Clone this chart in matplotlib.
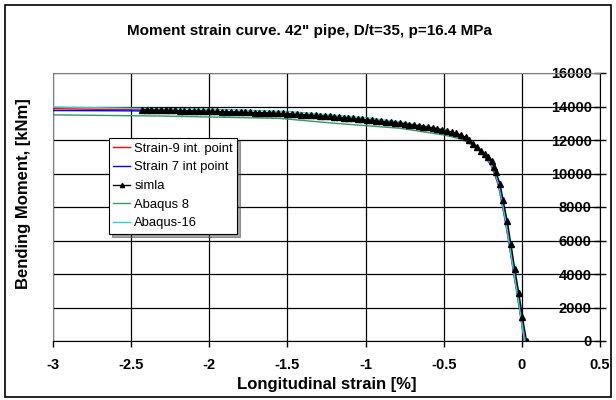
import matplotlib
matplotlib.use('Agg')
import matplotlib.pyplot as plt
from matplotlib.patches import Rectangle

plt.rcParams['font.family'] = ['Liberation Sans', 'DejaVu Sans']

# simla results (triangle markers)
simla_x = [-2.43, -2.40, -2.37, -2.34, -2.31, -2.28, -2.25, -2.22, -2.19, -2.16,
           -2.13, -2.10, -2.07, -2.04, -2.01, -1.98, -1.95, -1.92, -1.89, -1.86,
           -1.83, -1.80, -1.77, -1.74, -1.71, -1.68, -1.65, -1.62, -1.59, -1.56,
           -1.53, -1.50, -1.47, -1.44, -1.41, -1.38, -1.35, -1.32, -1.29, -1.26,
           -1.23, -1.20, -1.17, -1.14, -1.11, -1.08, -1.05, -1.02, -0.99, -0.96,
           -0.93, -0.90, -0.87, -0.84, -0.81, -0.78, -0.75, -0.72, -0.69, -0.66,
           -0.63, -0.60, -0.57, -0.54, -0.51, -0.48, -0.45, -0.42, -0.39, -0.36,
           -0.335, -0.31, -0.285, -0.26, -0.235, -0.215, -0.194, -0.178, -0.166,
           -0.14, -0.12, -0.094, -0.07, -0.045, -0.019, 0.004, 0.03]
simla_m = [13800, 13795, 13790, 13785, 13780, 13775, 13770, 13765, 13760, 13755,
           13750, 13745, 13735, 13730, 13720, 13715, 13705, 13700, 13690, 13680,
           13675, 13665, 13655, 13650, 13640, 13630, 13625, 13615, 13605, 13600,
           13585, 13570, 13555, 13540, 13520, 13505, 13490, 13470, 13450, 13430,
           13410, 13380, 13360, 13335, 13310, 13285, 13260, 13235, 13210, 13180,
           13150, 13120, 13090, 13060, 13030, 13000, 12960, 12920, 12880, 12840,
           12800, 12760, 12710, 12660, 12610, 12550, 12480, 12400, 12300, 12160,
           12000, 11780, 11580, 11360, 11160, 11000, 10720, 10400, 10060,
           9400, 8420, 7180, 5790, 4280, 2840, 1410, 0]

# Strain-9 int. point
s9_x = [-3.0, -2.7, -2.4, -2.0, -1.5, -1.0, -0.78, -0.6, -0.5, -0.4, -0.35, -0.3,
        -0.25, -0.2, -0.17, -0.145, -0.125, -0.1, -0.077, -0.053, -0.027, -0.004, 0.02]
s9_m = [13870, 13830, 13790, 13710, 13560, 13200, 12980, 12740, 12580, 12260, 12050, 11650,
        11200, 10650, 10050, 9350, 8400, 7150, 5750, 4250, 2800, 1400, 0]

# Strain 7 int point
s7_x = [-3.0, -2.5, -2.0, -1.5, -1.0, -0.78, -0.5, -0.4, -0.35, -0.3, -0.25, -0.2,
        -0.175, -0.15, -0.13, -0.105, -0.08, -0.055, -0.03, -0.007, 0.015]
s7_m = [13760, 13740, 13680, 13530, 13170, 12960, 12560, 12250, 12040, 11620, 11150, 10550,
        10000, 9300, 8350, 7100, 5700, 4200, 2780, 1380, 0]

# Abaqus 8
a8_x = [-3.0, -2.3, -1.55, -1.2, -0.78, -0.5, -0.38, -0.3, -0.25, -0.2, -0.17,
        -0.147, -0.127, -0.102, -0.078, -0.053, -0.028, -0.005, 0.018]
a8_m = [13500, 13430, 13290, 13000, 12700, 12300, 12040, 11600, 11180, 10600, 10020,
        9330, 8380, 7130, 5740, 4230, 2800, 1390, 0]

# Abaqus-16
a16_x = [-3.0, -2.5, -2.0, -1.5, -1.0, -0.78, -0.5, -0.4, -0.35, -0.3, -0.25, -0.2,
         -0.172, -0.148, -0.128, -0.103, -0.079, -0.054, -0.029, -0.006, 0.017]
a16_m = [13960, 13900, 13840, 13700, 13330, 13080, 12640, 12330, 12080, 11660, 11200, 10620,
         10040, 9350, 8400, 7150, 5760, 4250, 2810, 1400, 0]

x_ticks = [-3, -2.5, -2, -1.5, -1, -0.5, 0, 0.5]
y_ticks = [0, 2000, 4000, 6000, 8000, 10000, 12000, 14000, 16000]

fig = plt.figure(figsize=(6.16, 4.0), dpi=100)
ax = fig.add_axes([0.086, 0.1475, 0.888, 0.67])

ax.plot(s9_x, s9_m, color='#FF0000', lw=1, label='Strain-9 int. point', zorder=3)
ax.plot(s7_x, s7_m, color='#0000FF', lw=1, label='Strain 7 int point', zorder=3)
ax.plot(simla_x, simla_m, color='black', lw=1, marker='^', ms=5,
        label='simla', zorder=5)
ax.plot(a8_x, a8_m, color='#339966', lw=1, label='Abaqus 8', zorder=3)
ax.plot(a16_x, a16_m, color='#33CCCC', lw=1, label='Abaqus-16', zorder=4)

ax.set_xlim(-3, 0.5)
ax.set_ylim(0, 16000)
ax.set_xticks(x_ticks)
ax.set_xticklabels([f'{t:g}' for t in x_ticks])
ax.set_yticks(y_ticks)
ax.yaxis.tick_right()
ax.grid(True, color='black', lw=0.9)
ax.set_axisbelow(True)

ax.tick_params(axis='x', direction='out', length=4, width=1, pad=8, labelsize=10.5)
ax.tick_params(axis='y', direction='inout', length=8, width=1, pad=-10, labelsize=10.5)
for lab in ax.get_xticklabels() + ax.get_yticklabels():
    lab.set_fontweight('bold')
for lab in ax.get_yticklabels():
    lab.set_horizontalalignment('right')

ax.spines['top'].set_color('#808080')
ax.spines['left'].set_color('#808080')
ax.spines['right'].set_color('black')
ax.spines['bottom'].set_color('black')

ax.set_xlabel('Longitudinal strain [%]', fontsize=12, fontweight='bold', labelpad=4)
fig.text(0.038, 0.517, 'Bending Moment, [kNm]', rotation=90, fontsize=12,
         fontweight='bold', ha='center', va='center')
fig.text(0.503, 0.922, 'Moment strain curve. 42" pipe, D/t=35, p=16.4 MPa',
         fontsize=11, fontweight='bold', ha='center', va='center')

leg = ax.legend(loc='upper left', bbox_to_anchor=(0.102, 0.757), borderaxespad=0,
                fontsize=9.4, fancybox=False, shadow=True, framealpha=1,
                edgecolor='black', handlelength=1.3, handletextpad=0.3,
                labelspacing=0.5, borderpad=0.35, markerscale=0.6)
leg.get_frame().set_linewidth(0.8)

fig.patches.append(Rectangle((0.008, 0.008), 0.984, 0.98, transform=fig.transFigure,
                             fill=False, edgecolor='black', lw=1.2))

fig.savefig('out.png', dpi=100)
